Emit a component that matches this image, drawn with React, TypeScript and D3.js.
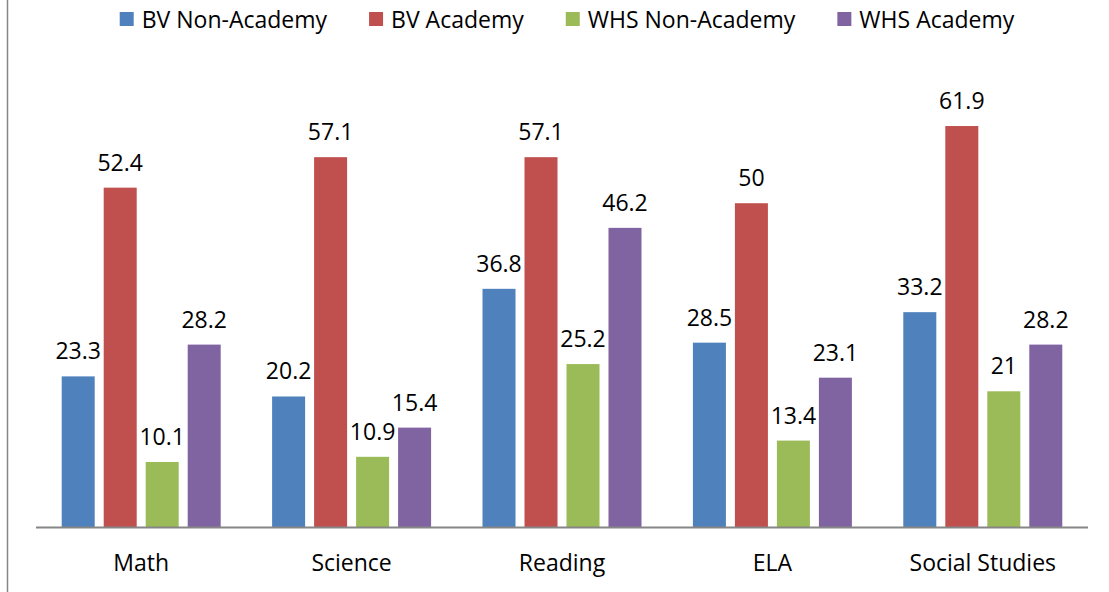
import { useEffect, useRef } from 'react';
import * as d3 from 'd3';

// data
const categories = ["Math", "Science", "Reading", "ELA", "Social Studies"];
const series_names = ["BV Non-Academy", "BV Academy", "WHS Non-Academy", "WHS Academy"];
const bv_non_academy = [23.3, 20.2, 36.8, 28.5, 33.2];
const bv_academy = [52.4, 57.1, 57.1, 50, 61.9];
const whs_non_academy = [10.1, 10.9, 25.2, 13.4, 21];
const whs_academy = [28.2, 15.4, 46.2, 23.1, 28.2];
const series_values = [bv_non_academy, bv_academy, whs_non_academy, whs_academy];
const colors = ["#4F81BD", "#C0504D", "#9BBB59", "#8064A2"];

export default function App() {
    const ref = useRef<SVGSVGElement>(null);

    useEffect(() => {
        // constants
        const width = 1109;
        const height = 592;
        const plot_left = 36;
        const plot_right = 1088;
        const plot_top = 73.5;
        const plot_bottom = 527.5;
        const font = "'Open Sans', sans-serif";
        const font_size = 23;

        const svg = d3.select(ref.current);
        svg.selectAll("*").remove();

        // chart border (left edge visible)
        svg.append("line")
            .attr("x1", 7.5).attr("x2", 7.5)
            .attr("y1", 0).attr("y2", height)
            .attr("stroke", "#868686")
            .attr("stroke-width", 1.5);

        // scales
        const x_scale = d3.scaleBand()
            .domain(categories)
            .range([plot_left, plot_right]);

        const inner = d3.scaleBand()
            .domain(series_names)
            .range([0, x_scale.bandwidth()])
            .paddingInner(0.214)
            .paddingOuter(0.612);

        const y_scale = d3.scaleLinear()
            .domain([0, 70])
            .range([plot_bottom, plot_top]);

        // bars
        series_names.forEach(function(name, i) {
            const g = svg.append("g");
            g.selectAll("rect")
                .data(series_values[i]).enter()
                .append("rect")
                .attr("x", function(d, j) { return x_scale(categories[j])! + inner(name)!; })
                .attr("y", function(d) { return y_scale(d); })
                .attr("width", inner.bandwidth())
                .attr("height", function(d) { return y_scale(0) - y_scale(d); })
                .attr("fill", colors[i]);

            g.selectAll("text")
                .data(series_values[i]).enter()
                .append("text")
                .attr("x", function(d, j) { return x_scale(categories[j])! + inner(name)! + inner.bandwidth() / 2; })
                .attr("y", function(d) { return y_scale(d) - 17; })
                .attr("text-anchor", "middle")
                .attr("font-family", font)
                .attr("font-size", font_size)
                .attr("fill", "#000")
                .text(function(d) { return String(d); });
        });

        // x axis
        svg.append("line")
            .attr("x1", plot_left).attr("x2", plot_right)
            .attr("y1", plot_bottom).attr("y2", plot_bottom)
            .attr("stroke", "#868686")
            .attr("stroke-width", 2);

        svg.append("g")
            .selectAll("text")
            .data(categories).enter()
            .append("text")
            .attr("x", function(d) { return x_scale(d)! + x_scale.bandwidth() / 2; })
            .attr("y", 571)
            .attr("text-anchor", "middle")
            .attr("font-family", font)
            .attr("font-size", font_size)
            .attr("fill", "#000")
            .text(function(d) { return d; });

        // legend
        const legend = svg.append("g");
        const square = 14;
        const gap = 8;
        const spacing = 42;
        let cursor = 0;
        series_names.forEach(function(name, i) {
            const item = legend.append("g").attr("transform", "translate(" + cursor + ",0)");
            item.append("rect")
                .attr("x", 0).attr("y", 12)
                .attr("width", square).attr("height", square)
                .attr("fill", colors[i]);
            const t = item.append("text")
                .attr("x", square + gap)
                .attr("y", 28)
                .attr("font-family", font)
                .attr("font-size", font_size)
                .attr("fill", "#000")
                .text(name);
            const len = (t.node() as SVGTextElement).getComputedTextLength();
            cursor += square + gap + len + spacing;
        });
        const total = cursor - spacing;
        legend.attr("transform", "translate(" + (567 - total / 2) + ",0)");

        svg.attr("width", width).attr("height", height);
    }, []);

    return (
        <svg ref={ref} width={1109} height={592}
            style={{ position: "absolute", left: 0, top: 0, background: "#fff" }} />
    );
}
